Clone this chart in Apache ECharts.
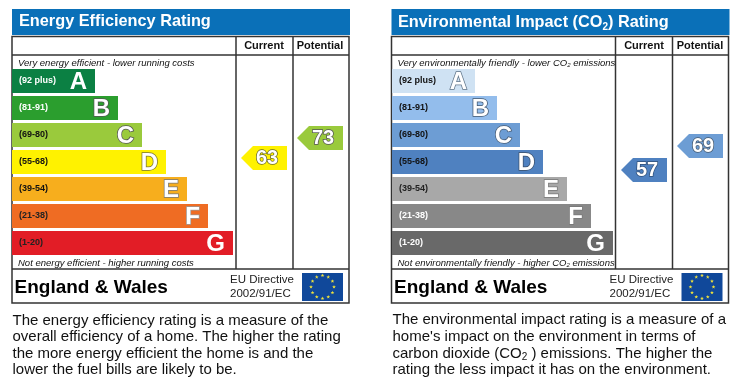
<!DOCTYPE html>
<html>

<head>
	<meta charset="utf-8">
	<script type="text/javascript" src="https://cdn.jsdelivr.net/npm/echarts@6/dist/echarts.min.js"></script>
	<style>
		html, body { margin: 0; padding: 0; background: #fff; }
	</style>
</head>

<body>
	<div id="main" style="width:743px; height:381px;"></div>

	<script type="text/javascript">

		// data
		var bandRanges = ['(92 plus)', '(81-91)', '(69-80)', '(55-68)', '(39-54)', '(21-38)', '(1-20)'];
		var bandLetters = ['A', 'B', 'C', 'D', 'E', 'F', 'G'];
		var ratingColumns = ['Current', 'Potential'];
		var energyBars = [83, 106, 130, 154, 175, 196, 221];
		var co2Bars = [83, 105, 128, 151, 175, 199, 221];
		var energyRatings = [63, 73];
		var co2Ratings = [57, 69];

		// colours
		var energyColors = ['#0b8043', '#2b9e2e', '#9aca3c', '#fff200', '#f7ae1d', '#ef6c23', '#e21d26'];
		var co2Colors = ['#cfe2f3', '#93bdec', '#6d9dd4', '#4f81c0', '#a8a8a8', '#888888', '#696969'];
		var energyRangeColors = ['#fff', '#fff', '#111', '#111', '#111', '#222', '#222'];
		var co2RangeColors = ['#111', '#111', '#111', '#111', '#222', '#fff', '#fff'];
		var energyLetterEdges = ['#0b8043', '#555', '#555', '#77733a', '#777', '#999', '#e21d26'];
		var co2LetterEdges = ['#5f7488', '#44586e', '#4a5f78', '#3a4f6a', '#777', '#777', '#696969'];
		var energyArrowColors = ['#fff200', '#9aca3c'];
		var co2ArrowColors = ['#4f81c0', '#6d9dd4'];
		var ratingEdges = ['#66662a', '#555'];
		var co2RatingEdges = ['#2f4f78', '#44586e'];

		var FONT = '"Liberation Sans", Arial, sans-serif';
		var ARROW = 'path://M0 12 L12 0 L46 0 L46 24 L12 24 Z';

		var chart = echarts.init(document.getElementById('main'));

		var grids = [], xAxes = [], yAxes = [], series = [], graphics = [];

		function addPanel(left, bars, colors, rangeColors, letterEdges, ratings, arrowColors, edges) {
			var g = grids.length;

			// bands
			grids.push({ left: left, top: 67.5, width: 221, height: 189 });
			xAxes.push({ gridIndex: g, type: 'value', min: 0, max: 221, show: false });
			yAxes.push({
				gridIndex: g, type: 'category', inverse: true, data: bandRanges, z: 5,
				axisLine: { show: false }, axisTick: { show: false },
				axisLabel: {
					inside: true, margin: 7, padding: [2, 0, 0, 0], fontFamily: FONT, fontSize: 9, fontWeight: 'bold',
					color: function (v, i) { return rangeColors[i]; }
				}
			});
			series.push({
				type: 'bar', xAxisIndex: g, yAxisIndex: g, barWidth: 24, silent: true,
				data: bars.map(function (v, i) {
					return {
						value: v,
						itemStyle: { color: colors[i] },
						label: { formatter: bandLetters[i], textBorderColor: letterEdges[i] }
					};
				}),
				label: {
					show: true, position: 'insideRight', distance: 8, offset: [0, 1], fontFamily: FONT,
					fontSize: 24, fontWeight: 'bold', color: '#fff', textBorderWidth: 1.5
				}
			});

			// current / potential arrows
			grids.push({ left: left + 224, top: 55, width: 112, height: 214 });
			xAxes.push({
				gridIndex: g + 1, type: 'category', position: 'top', data: ratingColumns,
				axisLine: { show: false }, axisTick: { show: false },
				axisLabel: { interval: 0, margin: 4, fontFamily: FONT, fontSize: 11, fontWeight: 'bold', color: '#111' }
			});
			yAxes.push({ gridIndex: g + 1, type: 'value', min: 7.5, max: 114.5, show: false });
			series.push({
				type: 'scatter', xAxisIndex: g + 1, yAxisIndex: g + 1, silent: true,
				symbol: ARROW, symbolSize: [46, 24],
				data: ratings.map(function (v, i) {
					return {
						value: [i, v],
						itemStyle: { color: arrowColors[i], opacity: 1 },
						label: { textBorderColor: edges[i] }
					};
				}),
				label: {
					show: true, position: 'inside', offset: [3, 0], fontFamily: FONT, fontSize: 20,
					fontWeight: 'bold', color: '#fff', textBorderWidth: 1.5,
					formatter: function (p) { return p.value[1]; }
				}
			});
		}

		function text(x, y, t, style) {
			graphics.push({
				type: 'text', x: x, y: y, z: 10, silent: true,
				style: echarts.util.extend({ text: t, fontFamily: FONT, verticalAlign: 'middle', fill: '#111' }, style)
			});
		}

		function line(x1, y1, x2, y2) {
			graphics.push({
				type: 'line', z: 1, silent: true,
				shape: { x1: x1, y1: y1, x2: x2, y2: y2 },
				style: { stroke: '#333', lineWidth: 1.5 }
			});
		}

		function flag(x, y) {
			graphics.push({
				type: 'rect', z: 1, silent: true,
				shape: { x: x, y: y, width: 41, height: 28 },
				style: { fill: '#10489a' }
			});
			for (var i = 0; i < 12; i++) {
				var a = i / 12 * Math.PI * 2;
				var cx = x + 20.5 + Math.cos(a) * 11.5, cy = y + 14 + Math.sin(a) * 11.5;
				var pts = [];
				for (var k = 0; k < 10; k++) {
					var r = k % 2 ? 0.8 : 2, b = k / 10 * Math.PI * 2 - Math.PI / 2;
					pts.push([cx + Math.cos(b) * r, cy + Math.sin(b) * r]);
				}
				graphics.push({
					type: 'polygon', z: 2, silent: true,
					shape: { points: pts },
					style: { fill: '#f2e33a' }
				});
			}
		}

		function addFrame(left) {
			graphics.push({
				type: 'rect', z: 0, silent: true,
				shape: { x: left, y: 9, width: 338, height: 26 },
				style: { fill: '#0a70b8' }
			});
			graphics.push({
				type: 'rect', z: 1, silent: true,
				shape: { x: left, y: 36.5, width: 337, height: 266.5 },
				style: { fill: 'none', stroke: '#333', lineWidth: 1.5 }
			});
			line(left, 55, left + 337, 55);
			line(left, 269, left + 337, 269);
			line(left + 224, 36.5, left + 224, 269);
			line(left + 281, 36.5, left + 281, 269);

			text(left + 2.5, 288, 'England & Wales', { fontSize: 19, fontWeight: 'bold', fill: '#000' });
			text(left + 218, 280, 'EU Directive', { fontSize: 11.5, fill: '#222' });
			text(left + 218, 294, '2002/91/EC', { fontSize: 11.5, fill: '#222' });
			flag(left + 290, 273);
		}

		addPanel(12, energyBars, energyColors, energyRangeColors, energyLetterEdges, energyRatings, energyArrowColors, ratingEdges);
		addPanel(392, co2Bars, co2Colors, co2RangeColors, co2LetterEdges, co2Ratings, co2ArrowColors, co2RatingEdges);

		addFrame(12);
		addFrame(391.5);

		// left panel texts
		text(19, 22, 'Energy Efficiency Rating', { fontSize: 16.3, fontWeight: 'bold', fill: '#fff' });
		text(18, 63, 'Very energy efficient - lower running costs', { fontSize: 9.5, fontStyle: 'italic' });
		text(18, 263, 'Not energy efficient - higher running costs', { fontSize: 9.5, fontStyle: 'italic' });
		text(12.5, 345.5, 'The energy efficiency rating is a measure of the\noverall efficiency of a home. The higher the rating\nthe more energy efficient the home is and the\nlower the fuel bills are likely to be.', { fontSize: 15, lineHeight: 16.3 });

		// right panel texts
		text(398, 22.5, '{t|Environmental Impact (CO}{s|2}{t|) Rating}', {
			rich: {
				t: { fontFamily: FONT, fontSize: 16.3, lineHeight: 20, fontWeight: 'bold', fill: '#fff' },
				s: { fontFamily: FONT, fontSize: 10, lineHeight: 10, fontWeight: 'bold', fill: '#fff', verticalAlign: 'bottom' }
			}
		});
		text(397.5, 63, '{t|Very environmentally friendly - lower CO}{s|2}{t| emissions}', {
			rich: {
				t: { fontFamily: FONT, fontSize: 9.5, lineHeight: 11, fontStyle: 'italic', fill: '#111' },
				s: { fontFamily: FONT, fontSize: 6, lineHeight: 6, fontStyle: 'italic', fill: '#111', verticalAlign: 'bottom' }
			}
		});
		text(397.5, 263, '{t|Not environmentally friendly - higher CO}{s|2}{t| emissions}', {
			rich: {
				t: { fontFamily: FONT, fontSize: 9.5, lineHeight: 11, fontStyle: 'italic', fill: '#111' },
				s: { fontFamily: FONT, fontSize: 6, lineHeight: 6, fontStyle: 'italic', fill: '#111', verticalAlign: 'bottom' }
			}
		});
		text(392.5, 320, 'The environmental impact rating is a measure of a', { fontSize: 15 });
		text(392.5, 337, "home's impact on the environment in terms of", { fontSize: 15 });
		text(392.5, 353.5, '{t|carbon dioxide (CO}{s|2}{t| ) emissions. The higher the}', {
			rich: {
				t: { fontFamily: FONT, fontSize: 15, lineHeight: 18, fill: '#111' },
				s: { fontFamily: FONT, fontSize: 10, lineHeight: 10, fill: '#111', verticalAlign: 'bottom' }
			}
		});
		text(392.5, 369.5, 'rating the less impact it has on the environment.', { fontSize: 15 });

		chart.setOption({
			animation: false,
			grid: grids,
			xAxis: xAxes,
			yAxis: yAxes,
			series: series,
			graphic: graphics
		});

	</script>
</body>

</html>
